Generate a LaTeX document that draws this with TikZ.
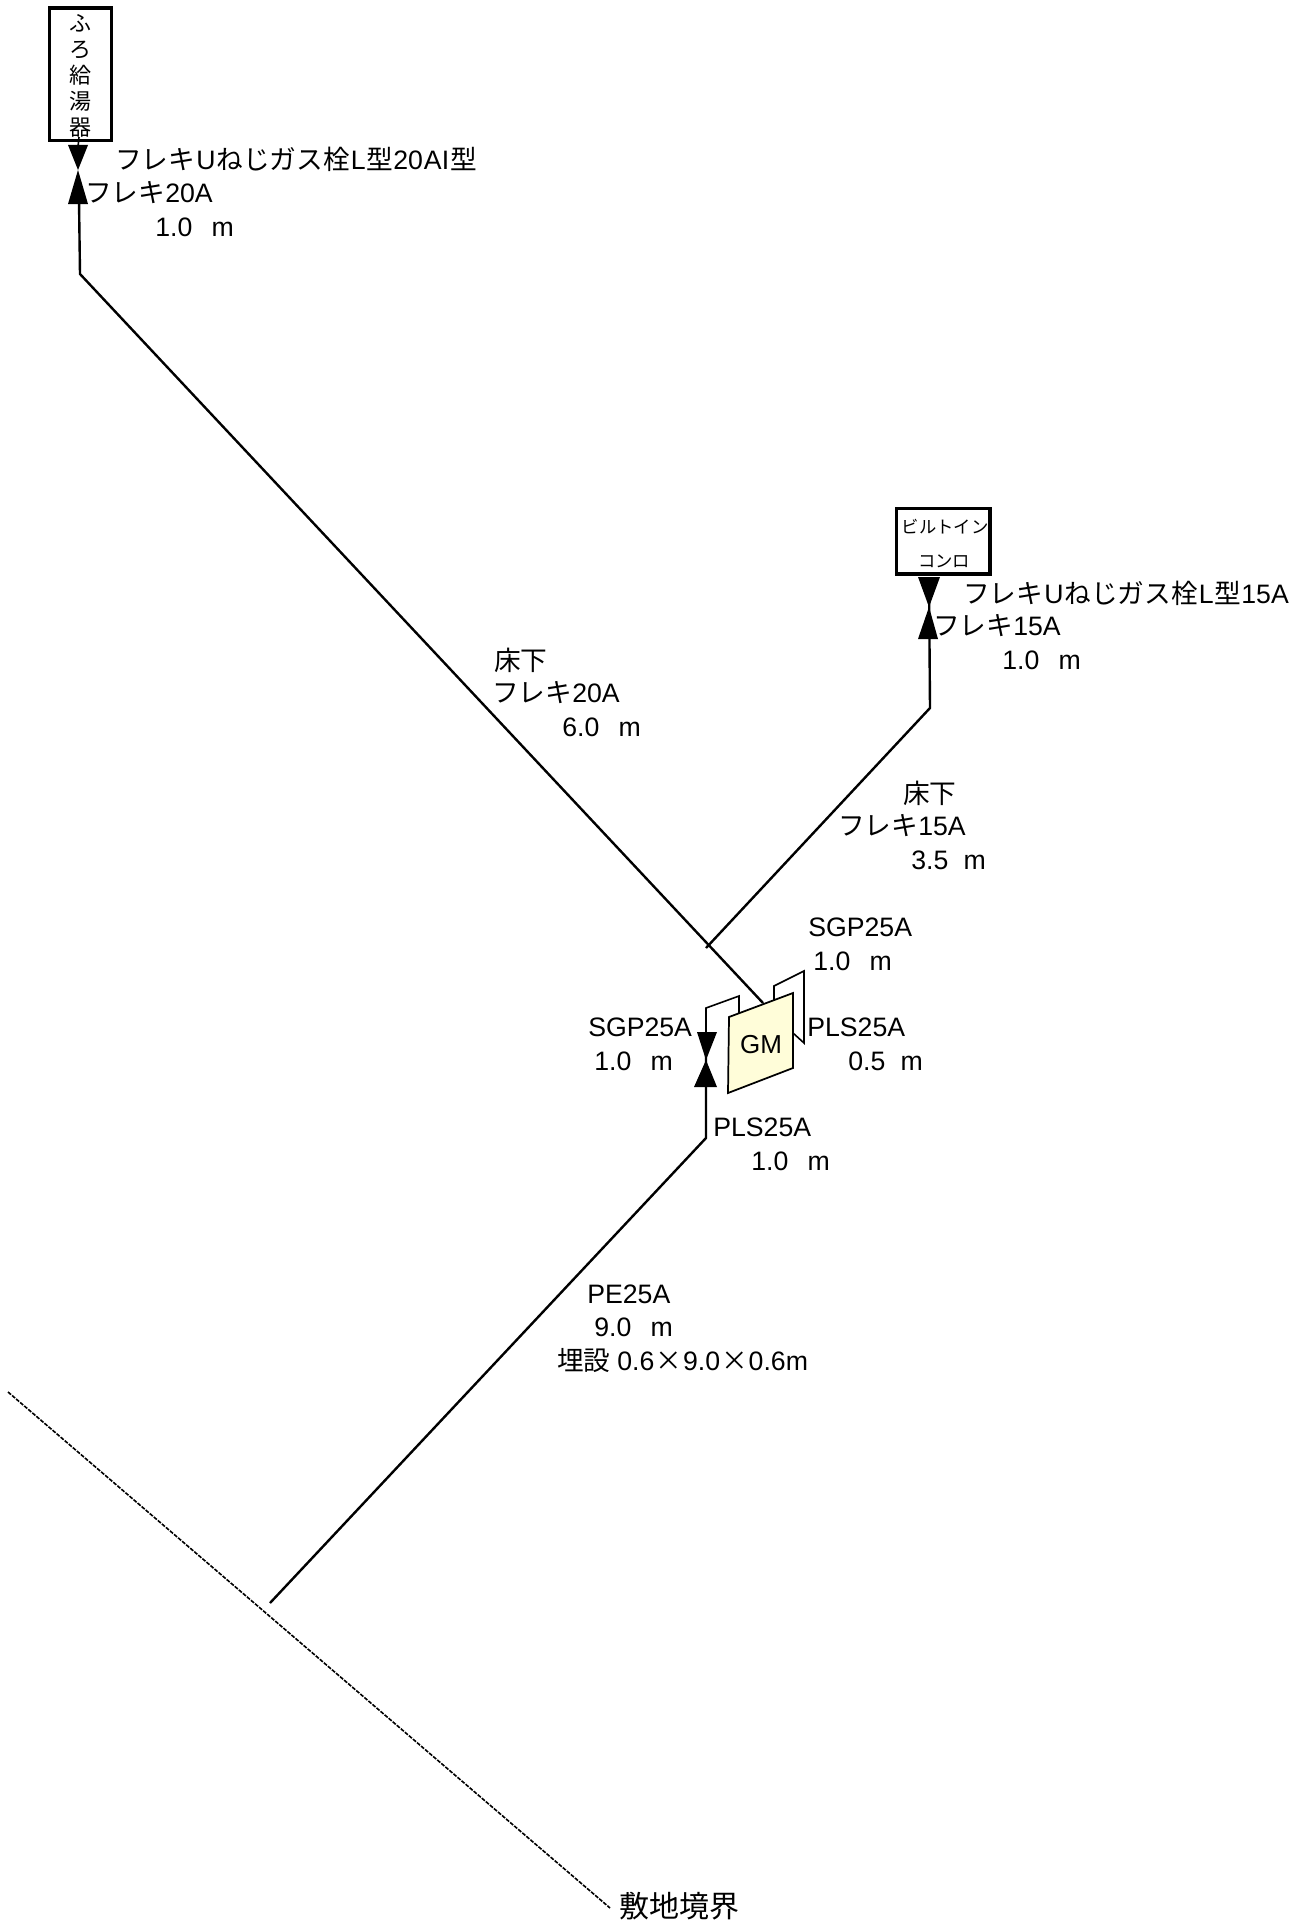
\documentclass[tikz,border=0pt]{standalone}
\usepackage{fontspec}
\setmainfont{Liberation Sans}
\newfontfamily\cjk{Noto Sans CJK JP}
\newcommand{\jp}[1]{{\cjk #1}}
\newcommand{\lat}[1]{\hspace{0.75pt}#1\hspace{0.75pt}}
\usetikzlibrary{positioning}
\tikzset{
  x=0.75pt,y=-0.75pt,
  pipe/.style={draw=black,line width=1.8pt},
  thinpipe/.style={draw=black,line width=1.2pt},
  devbox/.style={draw=black,line width=2.6pt,fill=white,inner sep=0pt,anchor=north west},
  lbl/.style={font=\fontsize{20pt}{22pt}\selectfont,text=black,inner sep=0pt,anchor=west},
  cock/.style={fill=black,draw=none},
}
\begin{document}
\begin{tikzpicture}
\useasboundingbox (0,0) rectangle (1306,1923);
\fill[white] (0,0) rectangle (1306,1923);
% site boundary
\coordinate (bndA) at (8,1392);
\coordinate (bndB) at (610,1908);
\draw[black,line width=1.2pt,dash pattern=on 3pt off 1pt] (bndA) -- (bndB);
\node[lbl,font=\fontsize{22.5pt}{24pt}\selectfont\cjk] (bndlabel) at (619,1906) {敷地境界};

% pipes
\coordinate (buried) at (270,1603);
\coordinate (pls) at (706,1138);
\coordinate (cockM) at (706,1054);
\coordinate (sgpA) at (706,1008);
\coordinate (sgpB) at (739,996);
\coordinate (sgpC) at (739,1016);
\draw[pipe] (buried) -- (pls) -- (cockM);
\draw[thinpipe] (cockM) -- (sgpA) -- (sgpB) -- (sgpC);

\coordinate (tee) at (706,948);
\coordinate (gmTop) at (763,1003);
\coordinate (elbowL) at (80,274);
\coordinate (riserL) at (79,137);
\coordinate (elbowR) at (930,708);
\coordinate (riserR) at (929,580);
\draw[pipe] (gmTop) -- (elbowL) -- (79,200);
\draw[pipe] (tee) -- (elbowR) -- (riserR);

% gas meter
\coordinate (outA) at (774,1000);
\coordinate (outB) at (774,986);
\coordinate (outC) at (804,971);
\coordinate (outD) at (804,1043);
\coordinate (outE) at (793,1033);
\draw[thinpipe] (outA) -- (outB) -- (outC) -- (outD) -- (outE);
\draw[black,line width=1.3pt,fill=yellow!15] (729,1017) -- (793,993) -- (793,1068) -- (728,1093) -- cycle;
\node[font=\fontsize{19.5pt}{22pt}\selectfont,inner sep=0pt] (gmlabel) at (761,1045) {GM};

% cocks
\fill[cock] (68,145) -- (88,145) -- (78,170) -- cycle;
\fill[cock] (78,170) -- (68,204) -- (88,204) -- cycle;
\fill[cock] (918,577) -- (940,577) -- (929,607) -- cycle;
\fill[cock] (929,607) -- (918,639) -- (938,639) -- cycle;
\fill[cock] (697,1032) -- (717,1032) -- (706,1060) -- cycle;
\fill[cock] (706,1060) -- (694,1087) -- (717,1087) -- cycle;

% appliances
\node[devbox,minimum width=46.5pt,minimum height=99.4pt] (furo) at (47.5,6.5) {};
\node[devbox,minimum width=70pt,minimum height=49pt] (stove) at (895,507) {};
\draw[thinpipe] (riserL) -- (78,147);

\node[font=\fontsize{16.5pt}{19.5pt}\selectfont\cjk,align=center,inner sep=0pt] (furotext) at (80,76) {ふ\\ろ\\給\\湯\\器};
\node[font=\fontsize{13pt}{16pt}\selectfont\cjk,inner sep=0pt] (stoveA) at (945,527) {ビルトイン};
\node[font=\fontsize{13pt}{16pt}\selectfont\cjk,inner sep=0pt] (stoveB) at (944,561) {コンロ};

% labels
\node[lbl] (a1) at (115,159) {\jp{フレキ}\lat{U}\jp{ねじガス栓}\lat{L}\jp{型}20\lat{AI}\jp{型}};
\node[lbl] (a2) at (85,193) {\jp{フレキ}20A};
\node[lbl] (a3) at (155,227) {1.0\hspace{14.5pt}m};
\node[lbl] (b1) at (963,593) {\jp{フレキ}\lat{U}\jp{ねじガス栓}\lat{L}\jp{型}15A};
\node[lbl] (b2) at (933,626) {\jp{フレキ}15A};
\node[lbl] (b3) at (1002,660) {1.0\hspace{14.5pt}m};
\node[lbl] (c1) at (494,660) {\jp{床下}};
\node[lbl] (c2) at (492,693) {\jp{フレキ}20A};
\node[lbl] (c3) at (562,727) {6.0\hspace{14.5pt}m};
\node[lbl] (d1) at (903,793) {\jp{床下}};
\node[lbl] (d2) at (838,826) {\jp{フレキ}15A};
\node[lbl] (d3) at (911,860) {3.5\hspace{11.5pt}m};
\node[lbl] (e1) at (808,927) {SGP25A};
\node[lbl] (e2) at (813,961) {1.0\hspace{14.5pt}m};
\node[lbl] (f1) at (807,1027) {PLS25A};
\node[lbl] (f2) at (848,1061) {0.5\hspace{11.5pt}m};
\node[lbl] (g1) at (588,1027) {SGP25A};
\node[lbl] (g2) at (594,1061) {1.0\hspace{14.5pt}m};
\node[lbl] (h1) at (713,1127) {PLS25A};
\node[lbl] (h2) at (751,1161) {1.0\hspace{14.5pt}m};
\node[lbl] (i1) at (587,1294) {PE25A};
\node[lbl] (i2) at (594,1327) {9.0\hspace{14.5pt}m};
\node[lbl] (i3) at (557,1361) {\jp{埋設}\hspace{5pt}0.6\lat{\jp{×}}9.0\lat{\jp{×}}0.6m};
\end{tikzpicture}
\end{document}
